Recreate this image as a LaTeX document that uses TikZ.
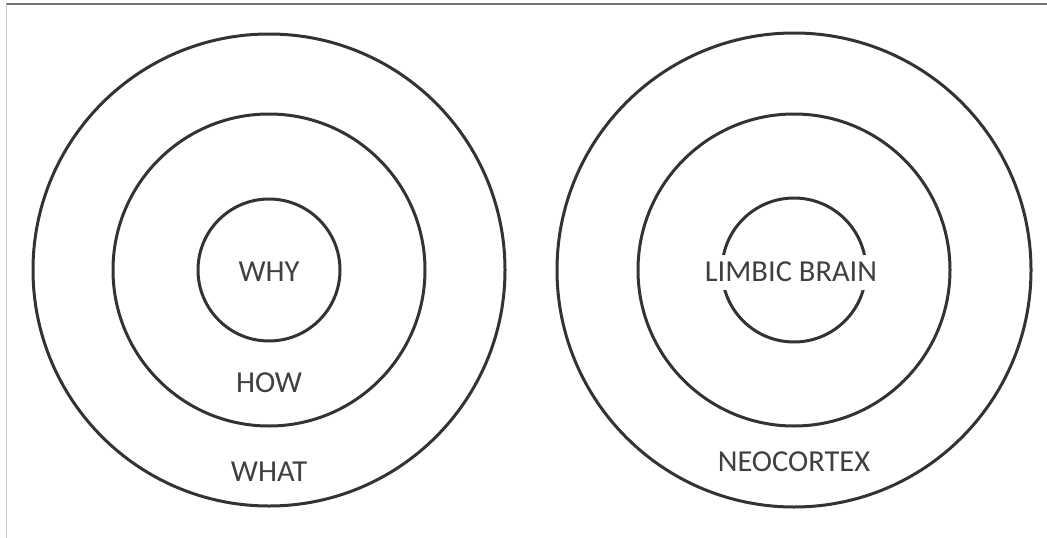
\documentclass[tikz,border=0pt]{standalone}
\usepackage{fontspec}
\setmainfont{Carlito}
\usetikzlibrary{positioning}

\definecolor{ringgray}{HTML}{333333}
\definecolor{textgray}{HTML}{404040}

\tikzset{
  ring/.style={circle, draw=ringgray, line width=3pt, inner sep=0pt, minimum size=#1},
  lbl/.style={text=textgray, fill=white, font=\fontsize{30.5}{36}\selectfont,
    inner xsep=1pt, inner ysep=0pt, minimum height=35pt}
}

\begin{document}
\begin{tikzpicture}[x=1pt, y=-1pt]
\useasboundingbox (0,0) rectangle (1047,538);

% frame lines
\draw[color=gray!110, line width=2pt] (6,3.5) -- (1047,3.5);
\draw[color=black!22, line width=1.2pt] (6.5,4) -- (6.5,538);

% golden circle
\node[ring=472pt] (WhatRing) at (269,270) {};
\node[ring=312pt] (HowRing) at (269,270) {};
\node[ring=142pt] (WhyRing) at (269,270) {};

\node[lbl] (Why) at (269,272) {WHY};
\node[lbl] (How) at (269,383) {HOW};
\node[lbl] (What) at (269,472) {WHAT};

% brain
\node[ring=474pt] (OuterBrain) at (794,270) {};
\node[ring=312pt] (MidBrain) at (794,270) {};
\node[ring=144pt] (Limbic) at (794,270) {};

\node[lbl] (LimbicTxt) at (791,272) {LIMBIC BRAIN};
\node[lbl] (Neo) at (794,462) {NEOCORTEX};
\end{tikzpicture}
\end{document}
